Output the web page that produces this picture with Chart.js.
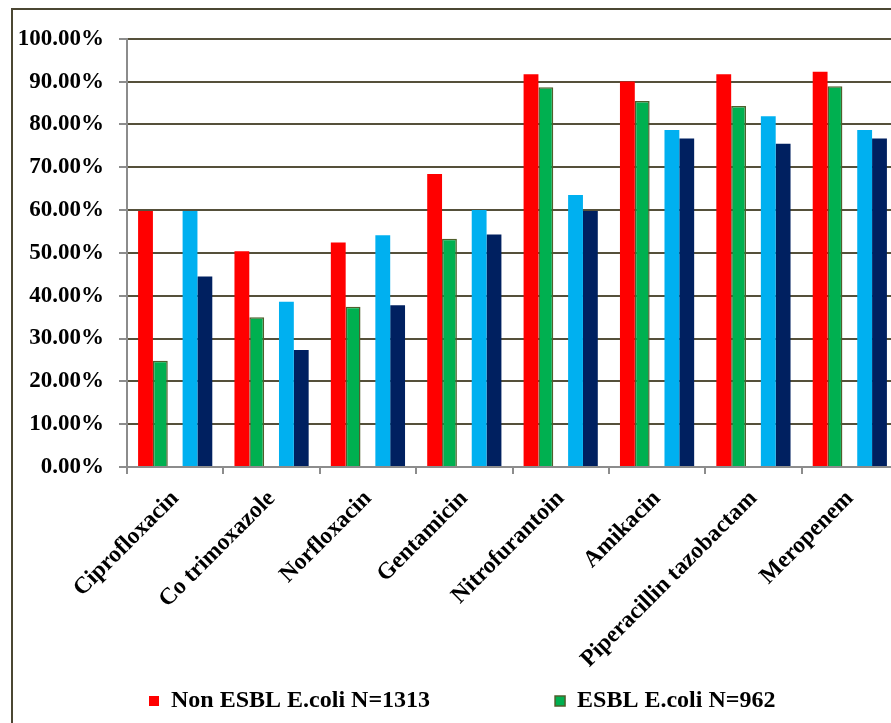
<!DOCTYPE html>
<html>
<head>
<meta charset="utf-8">
<script src="https://cdn.jsdelivr.net/npm/chart.js@4.4.1/dist/chart.umd.min.js"></script>
<style>
    html, body { margin: 0; padding: 0; overflow: hidden; background: #fff; width: 891px; height: 723px; }
    .frame { position: absolute; left: 11px; top: 8px; width: 1000px; height: 800px;
             border-left: 2px solid #4b4733; border-top: 2px solid #4b4733; }
    #chart { position: absolute; left: 13px; top: 10px; }
</style>
</head>
<body>
<div class="frame"></div>
<canvas id="chart" width="900" height="713"></canvas>
<script>
// Antibiotic categories
const drugs = ['Ciprofloxacin', 'Co trimoxazole', 'Norfloxacin', 'Gentamicin',
    'Nitrofurantoin', 'Amikacin', 'Piperacillin tazobactam', 'Meropenem'];

// Sensitivity (%)
const nonEsbl = [59.8, 50.4, 52.4, 68.4, 91.7, 90.0, 91.7, 92.3];
const esbl = [24.8, 35.0, 37.4, 53.3, 88.7, 85.5, 84.3, 88.9];
const seriesBlue = [59.8, 38.6, 54.1, 60.0, 63.5, 78.7, 81.9, 78.7];
const seriesNavy = [44.5, 27.3, 37.8, 54.3, 59.8, 76.7, 75.5, 76.7];
// empty column between the two pairs
const blankSeries = [null, null, null, null, null, null, null, null];

const yTicks = [0, 10, 20, 30, 40, 50, 60, 70, 80, 90, 100];

const serif = 'Liberation Serif, Times New Roman, serif';

// the wide legend takes a lot of room: let the rotated labels run into it,
// and nudge the legend a bit to the right
const layoutTweaks = {
    id: 'layoutTweaks',
    afterLayout(chart) {
        chart.scales.x.bottom = chart.height;
        chart.legend.left += 11;
        chart.legend.right += 11;
    }
};

new Chart(document.getElementById('chart').getContext('2d'), {
    type: 'bar',
    data: {
        labels: drugs,
        datasets: [
            { label: 'Non ESBL E.coli N=1313', data: nonEsbl, backgroundColor: '#FF0000', borderWidth: 0 },
            { label: 'ESBL E.coli N=962', data: esbl, backgroundColor: '#00B050', borderColor: '#4F5F2C', borderWidth: 1.5 },
            { label: '', data: blankSeries, backgroundColor: 'rgba(0,0,0,0)' },
            { label: 'series3', data: seriesBlue, backgroundColor: '#00B0F0', borderWidth: 0 },
            { label: 'series4', data: seriesNavy, backgroundColor: '#002060', borderWidth: 0 }
        ]
    },
    plugins: [layoutTweaks],
    options: {
        responsive: false,
        animation: false,
        categoryPercentage: 0.77,
        barPercentage: 1.0,
        layout: { padding: { left: 0, right: 15, top: 12, bottom: 0 } },
        plugins: {
            tooltip: { enabled: false },
            legend: {
                position: 'bottom',
                align: 'start',
                labels: {
                    filter: (item) => item.datasetIndex < 2,
                    boxWidth: 10,
                    boxHeight: 10,
                    padding: 125,
                    color: '#000',
                    font: { family: serif, size: 24, weight: 'bold' }
                }
            }
        },
        scales: {
            x: {
                grid: { display: true, drawOnChartArea: false, offset: true, tickLength: 7, tickColor: '#8c8c8c', lineWidth: 2 },
                border: { color: '#8c8c8c', width: 2 },
                ticks: {
                    autoSkip: false,
                    minRotation: 45,
                    maxRotation: 45,
                    padding: 11,
                    color: '#000',
                    font: { family: serif, size: 23.5, weight: 'bold' }
                },
                afterFit: (scale) => { scale.height = 97; }
            },
            y: {
                min: 0,
                max: 100,
                afterBuildTicks: (scale) => { scale.ticks = yTicks.map(v => ({ value: v })); },
                grid: { color: '#55503a', lineWidth: 2, tickLength: 8, tickColor: '#8c8c8c' },
                border: { color: '#8c8c8c', width: 2 },
                ticks: {
                    autoSkip: false,
                    padding: 15,
                    color: '#000',
                    font: { family: serif, size: 23, weight: 'bold' },
                    callback: (v) => v.toFixed(2) + '%'
                },
                afterFit: (scale) => { scale.width = 114; }
            }
        }
    }
});
</script>
</body>
</html>
